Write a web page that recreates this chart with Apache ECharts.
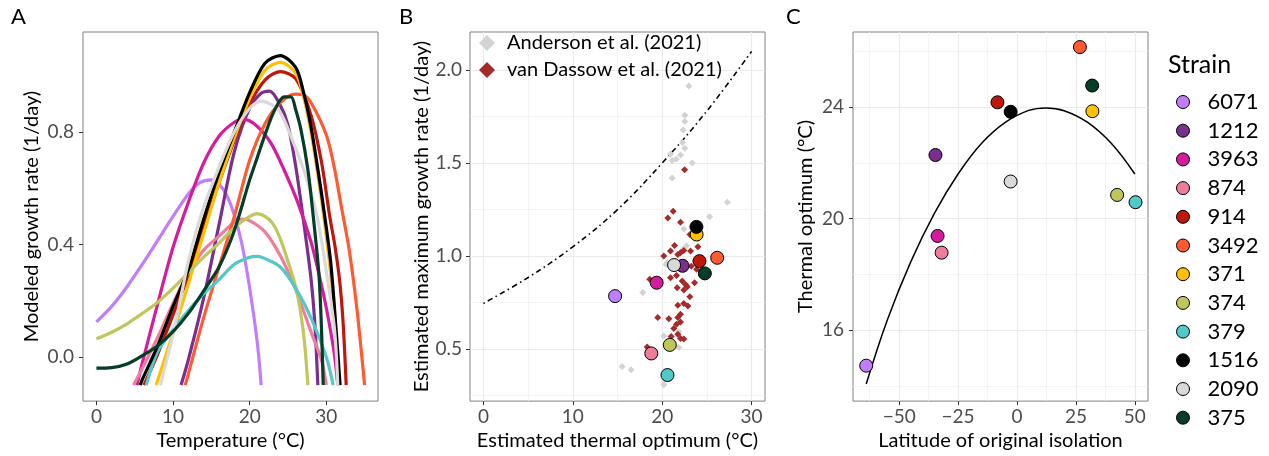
<!DOCTYPE html>
<html><head><meta charset="utf-8">
<script src="https://cdn.jsdelivr.net/npm/echarts@6/dist/echarts.min.js"></script>
<style>html,body{margin:0;padding:0;background:#fff}#c{width:1269px;height:456px}</style>
</head><body><div id="c"></div><script>
// ---------- data ----------
const strains = ['6071','1212','3963','874','914','3492','371','374','379','1516','2090','375'];
const strainColors = ['#C07EFF','#7A2F8E','#D61C9E','#F07C9C','#C0170C','#FF5A32','#FFC000','#BFC75A','#52C8C8','#000000','#D9D9D9','#053D26'];
// thermal optimum (°C) per strain (panels B & C)
const thermalOptimum = [14.73,22.28,19.38,18.78,24.17,26.15,23.85,20.85,20.59,23.83,21.33,24.77];
// estimated maximum growth rate (1/day) per strain (panel B)
const maxGrowth = [0.785,0.948,0.857,0.477,0.973,0.991,1.116,0.523,0.361,1.157,0.952,0.907];
// latitude of original isolation (panel C)
const latitude = [-64,-34.6,-33.7,-32.0,-8.3,26.7,32.0,42.5,50.3,-2.7,-2.7,31.9];

// Panel A: modeled growth curves [temperature, growth rate]
const curve6071 = [[0,0.125],[2,0.18],[4,0.25],[6,0.33],[8,0.415],[10,0.50],[12,0.58],[13.5,0.62],[15,0.63],[16,0.615],[17,0.575],[18,0.505],[19,0.40],[20,0.245],[21,0.05],[21.5,-0.1]];
const curve1212 = [[11.05,-0.1],[12,-0.01],[14,0.21],[16,0.47],[18,0.73],[20,0.885],[21.5,0.938],[22.6,0.946],[24,0.895],[25,0.825],[26,0.68],[27,0.49],[28,0.28],[28.5,0.12],[28.9,-0.1]];
const curve3963 = [[5.3,-0.1],[6,-0.02],[8,0.19],[10,0.39],[12,0.55],[14,0.69],[16,0.785],[18,0.835],[19.3,0.845],[21,0.82],[22.8,0.76],[24.5,0.665],[26.3,0.548],[28,0.41],[29,0.30],[30,0.175],[31,0.02],[31.5,-0.1]];
const curve874 = [[4.85,-0.1],[6,-0.04],[8,0.07],[10,0.19],[12,0.30],[14,0.38],[16,0.43],[18,0.48],[19,0.49],[20,0.485],[22,0.445],[24,0.36],[26,0.24],[28,0.09],[29.4,-0.014],[30,-0.1]];
const curve914 = [[6.2,-0.1],[8,0.01],[10,0.15],[12,0.29],[14,0.46],[16,0.62],[18,0.77],[20,0.90],[22,0.985],[24,1.015],[26,0.99],[28,0.86],[29.4,0.69],[30.45,0.50],[31.1,0.40],[31.75,0.27],[32.2,0.12],[32.6,-0.1]];
const curve3492 = [[11.6,-0.1],[12,-0.06],[14,0.14],[16,0.32],[18,0.50],[20,0.70],[22,0.83],[24,0.905],[26,0.935],[27,0.932],[28,0.905],[30,0.79],[31,0.68],[32,0.53],[33,0.38],[34,0.17],[35,-0.1]];
const curve371 = [[7.8,-0.1],[10,0.085],[12,0.26],[14,0.44],[16,0.62],[18,0.78],[20,0.92],[22,1.02],[24,1.048],[26,1.01],[27,0.93],[28,0.80],[29,0.63],[30,0.43],[31,0.18],[31.6,-0.1]];
const curve374 = [[0,0.065],[2,0.088],[4,0.118],[6,0.155],[8,0.195],[10,0.245],[12,0.30],[14,0.355],[16,0.405],[18,0.46],[20,0.50],[21,0.51],[22,0.50],[23,0.475],[24,0.42],[25,0.34],[26,0.25],[26.7,0.15],[27.2,0.04],[27.6,-0.1]];
const curve379 = [[6.5,-0.1],[8,0.02],[10,0.097],[12,0.165],[14,0.225],[16,0.275],[18,0.33],[20,0.355],[21,0.358],[22,0.35],[24,0.32],[26,0.245],[28,0.14],[30,0.0],[30.9,-0.1]];
const curve1516 = [[5.7,-0.1],[6,-0.08],[8,0.04],[10,0.18],[12,0.31],[14,0.49],[16,0.655],[18,0.80],[20,0.94],[22,1.045],[24,1.072],[26,1.03],[27,0.945],[28,0.82],[29,0.65],[29.8,0.50],[30.6,0.33],[31.3,0.09],[31.8,-0.1]];
const curve2090 = [[8.35,-0.1],[10,0.08],[11,0.21],[12,0.34],[13.6,0.50],[16,0.675],[18,0.80],[20,0.885],[21.5,0.91],[23,0.895],[24,0.87],[25.4,0.784],[27.2,0.654],[28.8,0.50],[30.2,0.27],[31.1,0.092],[31.5,-0.1]];
const curve375 = [[0,-0.04],[2,-0.038],[4,-0.025],[6,0.005],[8,0.04],[10,0.09],[12,0.155],[14,0.235],[16,0.32],[18,0.45],[20,0.63],[21,0.71],[22,0.79],[23.2,0.875],[24.5,0.925],[25.4,0.925],[26,0.88],[26.7,0.808],[27.6,0.666],[28.3,0.50],[29.1,0.27],[29.6,-0.1]];
const curves = [curve6071,curve1212,curve3963,curve874,curve914,curve3492,curve371,curve374,curve379,curve1516,curve2090,curve375];

// Panel B: literature data [thermal optimum, max growth]
const anderson2021 = [[22.98,1.914],[22.53,1.757],[22.53,1.723],[22.35,1.678],[22.27,1.610],[22.53,1.580],[20.93,1.548],[22.05,1.543],[21.12,1.514],[21.57,1.521],[23.36,1.50],[21.12,1.420],[27.29,1.289],[25.3,1.211],[22.42,1.146],[22.72,1.055],[22.35,1.036],[20.56,0.964],[20.45,0.955],[17.83,0.804],[20.18,0.571],[21.86,0.593],[21.86,0.509],[15.51,0.407],[16.52,0.389],[20.18,0.309]];
const vanDassow2021 = [[22.5,1.464],[21.23,1.241],[20.63,1.205],[22.05,1.182],[23.1,1.116],[21.38,1.057],[23.99,1.050],[20.93,1.027],[22.05,1.018],[22.42,1.030],[23.17,1.027],[20.18,1.0],[21.75,1.009],[23.25,0.946],[23.85,0.929],[21.6,0.896],[20.93,0.884],[18.61,0.875],[22.24,0.866],[22.61,0.848],[23.62,0.857],[22.8,0.836],[21.68,0.830],[22.42,0.818],[23.09,0.782],[22.42,0.746],[21.75,0.736],[22.87,0.732],[22.05,0.687],[19.5,0.670],[20.74,0.664],[21.75,0.670],[22.05,0.646],[21.6,0.634],[21.3,0.611],[21.75,0.580],[21.0,0.568],[22.05,0.557],[22.42,0.554],[18.32,0.512]];
// Panel B: dot-dash reference curve
const refCurve = [[0,0.746],[5,0.885],[10,1.05],[15,1.25],[20,1.50],[25,1.78],[30,2.10]];
// Panel C: fitted curve [latitude, thermal optimum]
const latFit = [[-64,14.07],[-55,16.38],[-45,18.47],[-35,20.2],[-25,21.6],[-15,22.7],[-5,23.45],[5,23.88],[12.4,23.97],[20,23.87],[30,23.45],[40,22.7],[50,21.6]];

// tick labels
const ticksAx = [0,10,20,30], ticksAy = [0,0.4,0.8];
const ticksBx = [0,10,20,30], ticksBy = [0.5,1.0,1.5,2.0];
const ticksCx = [-50,-25,0,25,50], ticksCy = [16,20,24];
const minorBx = [5,15,25], minorBy = [0.25,0.75,1.25,1.75];
const minorCx = [-62.5,-37.5,-12.5,12.5,37.5], minorCy = [14,18,22,26];

// ---------- chart ----------
const FONT = 'Lato';
const chart = echarts.init(document.getElementById('c'), null, {renderer:'canvas'});
const grids = [
  {left:83, top:32, width:295, height:370},
  {left:470, top:32, width:295, height:370},
  {left:853, top:32, width:295, height:370}
].map(g => Object.assign(g, {show:true, borderColor:'#808080', borderWidth:1, backgroundColor:'transparent', containLabel:false}));

function axis(gi, min, max, ticks, fmt, name, nameGap, margin){
  return {
    type:'value', gridIndex:gi, min, max, name, nameLocation:'middle', nameGap,
    nameTextStyle:{fontFamily:FONT, fontSize:20, color:'#000'},
    axisLine:{show:false, onZero:false},
    axisTick:{show:true, length:4, inside:false, customValues:ticks, lineStyle:{color:'#333', width:1}},
    axisLabel:{customValues:ticks, formatter:fmt, fontFamily:FONT, fontSize:19, color:'#4D4D4D', margin},
    splitLine:{show:false}
  };
}
const f1 = v => v.toFixed(1);
const fi = v => v < 0 ? '\u2212' + Math.abs(v) : String(v);

const xAxes = [
  axis(0,-1.75,36.75,ticksAx,fi,'Temperature (°C)',29,6),
  axis(1,-1.5,31.5,ticksBx,fi,'Estimated thermal optimum (°C)',29,6),
  axis(2,-69.6,55.6,ticksCx,fi,'Latitude of original isolation',29,6)
];
const yAxes = [
  axis(0,-0.157,1.156,ticksAy,f1,'Modeled growth rate (1/day)',41,9),
  axis(1,0.221,2.204,ticksBy,f1,'Estimated maximum growth rate (1/day)',37,8),
  axis(2,13.46,26.69,ticksCy,fi,'Thermal optimum (°C)',37,9)
];

function gridLines(i, xMaj, xMin, yMaj, yMin){
  const maj = {color:'#EBEBEB', width:1.2, type:'solid'};
  const mn = {color:'#EFEFEF', width:0.7, type:'solid'};
  const d = [];
  xMaj.forEach(v => d.push({xAxis:v, lineStyle:maj}));
  xMin.forEach(v => d.push({xAxis:v, lineStyle:mn}));
  yMaj.forEach(v => d.push({yAxis:v, lineStyle:maj}));
  yMin.forEach(v => d.push({yAxis:v, lineStyle:mn}));
  return {type:'scatter', xAxisIndex:i, yAxisIndex:i, data:[], z:0, silent:true,
    markLine:{z:0, zlevel:0, silent:true, symbol:['none','none'], label:{show:false}, animation:false, data:d}};
}

const series = [];
series.push(gridLines(1, ticksBx, minorBx, ticksBy, minorBy));
series.push(gridLines(2, ticksCx, minorCx, ticksCy, minorCy));

// Panel A curves
strains.forEach((s,i) => series.push({
  type:'line', name:s, xAxisIndex:0, yAxisIndex:0, data:curves[i], smooth:0.3,
  showSymbol:false, symbol:'none', lineStyle:{color:strainColors[i], width:3.2}, itemStyle:{color:strainColors[i]},
  z:2, silent:true
}));

// Panel B
series.push({type:'line', xAxisIndex:1, yAxisIndex:1, data:refCurve, smooth:0.4, showSymbol:false, symbol:'none',
  lineStyle:{color:'#000', width:1.6, type:[1.5,3.5,5.5,3.5]}, z:2, silent:true});
series.push({type:'scatter', name:'Anderson et al. (2021)', xAxisIndex:1, yAxisIndex:1, data:anderson2021,
  symbol:'diamond', symbolSize:7, itemStyle:{color:'#D3D3D3', opacity:1}, z:3, silent:true});
series.push({type:'scatter', name:'van Dassow et al. (2021)', xAxisIndex:1, yAxisIndex:1, data:vanDassow2021,
  symbol:'diamond', symbolSize:7, itemStyle:{color:'#A52A2A', opacity:1}, z:4, silent:true});
strains.forEach((s,i) => series.push({
  type:'scatter', name:s, xAxisIndex:1, yAxisIndex:1, data:[[thermalOptimum[i], maxGrowth[i]]],
  symbol:'circle', symbolSize:13, itemStyle:{color:strainColors[i], borderColor:'#000', borderWidth:1, opacity:1}, z:5, silent:true
}));

// Panel C
series.push({type:'line', xAxisIndex:2, yAxisIndex:2, data:latFit, smooth:0.4, showSymbol:false, symbol:'none',
  lineStyle:{color:'#000', width:1.5}, z:2, silent:true});
strains.forEach((s,i) => series.push({
  type:'scatter', name:s, xAxisIndex:2, yAxisIndex:2, data:[[latitude[i], thermalOptimum[i]]],
  symbol:'circle', symbolSize:13, itemStyle:{color:strainColors[i], borderColor:'#000', borderWidth:1, opacity:1}, z:5, silent:true
}));

const option = {
  animation:false,
  backgroundColor:'#fff',
  textStyle:{fontFamily:FONT},
  title:[
    {text:'A', left:11, top:6, padding:0, textStyle:{fontFamily:FONT, fontSize:22, fontWeight:'normal', color:'#000'}},
    {text:'B', left:399, top:6, padding:0, textStyle:{fontFamily:FONT, fontSize:22, fontWeight:'normal', color:'#000'}},
    {text:'C', left:786, top:6, padding:0, textStyle:{fontFamily:FONT, fontSize:22, fontWeight:'normal', color:'#000'}},
    {text:'Strain', left:1168, top:52, padding:0, textStyle:{fontFamily:FONT, fontSize:25, fontWeight:'normal', color:'#000'}}
  ],
  legend:[
    {orient:'vertical', left:1176, top:90, padding:0, itemWidth:13, itemHeight:13, itemGap:4.7,
     selectedMode:false,
     textStyle:{fontFamily:FONT, fontSize:22, color:'#000', lineHeight:24, padding:[0,0,0,13]},
     data:strains.map((s,i) => ({name:s, icon:'circle', itemStyle:{color:strainColors[i], borderColor:'#000', borderWidth:1}}))},
    {orient:'vertical', left:479, top:32, padding:0, itemWidth:16, itemHeight:16, itemGap:5,
     selectedMode:false,
     textStyle:{fontFamily:FONT, fontSize:20, color:'#000', lineHeight:22, padding:[0,0,0,7]},
     data:[{name:'Anderson et al. (2021)', icon:'diamond', itemStyle:{color:'#D3D3D3'}},
           {name:'van Dassow et al. (2021)', icon:'diamond', itemStyle:{color:'#A52A2A'}}]}
  ],
  grid:grids, xAxis:xAxes, yAxis:yAxes, series
};
chart.setOption(option);
</script></body></html>
